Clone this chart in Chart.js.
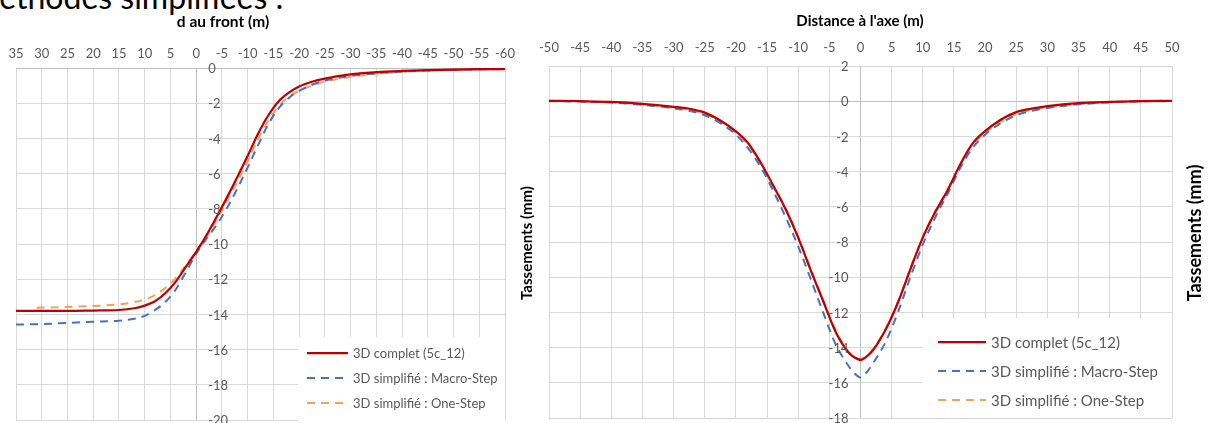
<!DOCTYPE html>
<html>
<head>
<meta charset="utf-8">
<script src="https://cdn.jsdelivr.net/npm/chart.js@4.4.0/dist/chart.umd.min.js"></script>
<style>
  html, body { margin: 0; padding: 0; background: #fff; overflow: hidden; }
  body { width: 1208px; height: 423px; position: relative; font-family: Lato, sans-serif; }
  .panel { position: absolute; top: 0; height: 423px; }
  #leftPanel { left: 0; width: 540px; }
  #rightPanel { left: 527px; width: 681px; }
  .heading { position: absolute; left: -30px; top: -23px; font-size: 32px; color: #000; white-space: nowrap; }
</style>
</head>
<body>
<div class="heading">Méthodes simplifiées :</div>
<div class="panel" id="leftPanel"><canvas id="frontChart"></canvas></div>
<div class="panel" id="rightPanel"><canvas id="axeChart"></canvas></div>
<script>
// --- settlement along the tunnel axis, vs distance to the face (m)
const frontX = [35, 30, 25, 20, 15, 12, 10, 8, 6, 4, 2, 0, -2, -4, -6, -8, -10, -12, -14, -16, -18, -20, -22.5, -25, -30, -35, -40, -45, -50, -55, -60];
const frontComplet = [-13.8, -13.8, -13.8, -13.78, -13.75, -13.65, -13.5, -13.25, -12.8, -12.15, -11.3, -10.45, -9.5, -8.45, -7.35, -6.2, -5.0, -3.75, -2.7, -1.9, -1.4, -1.05, -0.78, -0.6, -0.36, -0.24, -0.17, -0.12, -0.09, -0.07, -0.06];
const frontMacro = [-14.58, -14.55, -14.48, -14.42, -14.36, -14.25, -14.08, -13.75, -13.3, -12.6, -11.6, -10.55, -9.7, -8.9, -7.95, -6.85, -5.65, -4.4, -3.2, -2.3, -1.7, -1.3, -0.95, -0.72, -0.45, -0.3, -0.2, -0.14, -0.1, -0.08, -0.06];
const frontOneStepX = [31, 25, 20, 15, 12, 10, 8, 6, 4, 2, 0, -2, -4, -6, -8, -10, -12, -14, -16, -18, -20, -22.5, -25, -30, -35, -40, -45, -50, -55, -60];
const frontOneStep = [-13.62, -13.58, -13.52, -13.43, -13.3, -13.15, -12.9, -12.5, -11.95, -11.2, -10.4, -9.6, -8.6, -7.55, -6.45, -5.3, -4.05, -3.0, -2.2, -1.65, -1.3, -1.0, -0.78, -0.5, -0.33, -0.22, -0.15, -0.1, -0.08, -0.06];

// --- transverse settlement trough, vs distance to the axis (m)
const axeX = [-50, -45, -40, -35, -30, -27.5, -25, -22.5, -20, -18, -16, -14, -12, -10, -8, -6, -4, -2, -1, 0, 1, 2, 4, 6, 8, 10, 12, 14, 16, 18, 20, 22.5, 25, 27.5, 30, 35, 40, 45, 50];
const axeComplet = [0.02, 0.0, -0.04, -0.15, -0.32, -0.43, -0.65, -1.1, -1.72, -2.4, -3.5, -4.8, -6.15, -7.75, -9.6, -11.35, -13.1, -14.25, -14.55, -14.7, -14.5, -14.15, -13.0, -11.45, -9.55, -7.75, -6.3, -5.05, -3.6, -2.4, -1.7, -1.05, -0.62, -0.42, -0.28, -0.11, -0.04, 0.0, 0.02];
const axeMacro = [0.0, -0.02, -0.08, -0.2, -0.4, -0.55, -0.8, -1.25, -1.9, -2.7, -3.75, -5.1, -6.6, -8.25, -10.1, -12.0, -13.8, -15.0, -15.45, -15.7, -15.4, -14.9, -13.7, -12.0, -10.0, -8.15, -6.6, -5.25, -3.8, -2.65, -1.9, -1.25, -0.8, -0.55, -0.38, -0.18, -0.06, -0.01, 0.0];
const axeOneStepX = [-45, -40, -35, -30, -27.5, -25, -22.5, -20, -18, -16, -14, -12, -10, -8, -6, -4, -2, -1, 0, 1, 2, 4, 6, 8, 10, 12, 14, 16, 18, 20, 22.5, 25, 27.5, 30, 35, 40, 45];
const axeOneStep = [-0.02, -0.07, -0.2, -0.38, -0.5, -0.72, -1.15, -1.8, -2.5, -3.55, -4.8, -6.1, -7.7, -9.5, -11.3, -13.0, -14.2, -14.5, -14.65, -14.45, -14.1, -12.95, -11.4, -9.5, -7.7, -6.25, -5.0, -3.6, -2.45, -1.8, -1.15, -0.72, -0.5, -0.36, -0.17, -0.07, -0.02];

const seriesNames = ['3D complet (5c_12)', '3D simplifié : Macro-Step', '3D simplifié : One-Step'];
const seriesColors = ['#c00000', '#4472c4', '#f4a15d'];

const toPoints = (xs, ys) => xs.map((x, i) => ({ x: x, y: ys[i] }));

function makeDatasets(xs, complet, macro, oneX, oneStep) {
  return [
    { label: seriesNames[0], data: toPoints(xs, complet), borderColor: seriesColors[0], borderWidth: 2.25 },
    { label: seriesNames[1], data: toPoints(xs, macro), borderColor: seriesColors[1], borderWidth: 2, borderDash: [8, 6] },
    { label: seriesNames[2], data: toPoints(oneX, oneStep), borderColor: seriesColors[2], borderWidth: 2, borderDash: [8, 6] },
  ].map((d) => ({ ...d, pointRadius: 0, fill: false, cubicInterpolationMode: 'monotone' }));
}

const gridColor = (ctx) => (ctx.tick && ctx.tick.value === 0 ? '#bfbfbf' : '#d9d9d9');

// axis labels beside the x=0 axis, titles and an in-plot legend, like Excel draws them
const excelExtras = {
  id: 'excelExtras',
  afterDraw(chart, args, o) {
    const ctx = chart.ctx;
    const xs = chart.scales.x;
    const ys = chart.scales.y;
    const x0 = xs.getPixelForValue(0);
    ctx.save();

    ctx.font = '13px Lato';
    ctx.fillStyle = '#595959';
    ctx.textBaseline = 'middle';
    ctx.textAlign = o.labelSide === 'right' ? 'left' : 'right';
    const lx = o.labelSide === 'right' ? x0 + o.labelGap : x0 - o.labelGap;
    ys.ticks.forEach((t) => ctx.fillText(String(t.value), lx, ys.getPixelForValue(t.value) + 1));

    ctx.fillStyle = '#000';
    ctx.textAlign = 'center';
    ctx.font = o.xTitle.font;
    ctx.fillText(o.xTitle.text, o.xTitle.x, o.xTitle.y);
    o.yTitles.forEach((t) => {
      ctx.save();
      ctx.font = t.font;
      ctx.translate(t.x, t.y);
      ctx.rotate(-Math.PI / 2);
      ctx.fillText(t.text, 0, 0);
      ctx.restore();
    });

    const lg = o.legend;
    ctx.fillStyle = '#fff';
    ctx.fillRect(lg.left, lg.top, lg.width, lg.height);
    ctx.font = lg.font;
    ctx.textAlign = 'left';
    chart.data.datasets.forEach((d, i) => {
      const y = lg.firstRow + i * lg.rowGap;
      ctx.beginPath();
      ctx.setLineDash(d.borderDash || []);
      ctx.strokeStyle = d.borderColor;
      ctx.lineWidth = d.borderWidth;
      ctx.moveTo(lg.sampleX, y);
      ctx.lineTo(lg.sampleX + lg.sampleLen, y);
      ctx.stroke();
      ctx.setLineDash([]);
      ctx.fillStyle = '#595959';
      ctx.fillText(d.label, lg.sampleX + lg.sampleLen + 5, y + 1);
    });
    ctx.restore();
  },
};

function makeChart(id, datasets, xOpts, yOpts, padding, extras) {
  return new Chart(document.getElementById(id), {
    type: 'line',
    data: { datasets: datasets },
    options: {
      responsive: true,
      maintainAspectRatio: false,
      animation: false,
      layout: { padding: padding },
      plugins: { legend: { display: false }, tooltip: { enabled: false }, excelExtras: extras },
      scales: {
        x: {
          type: 'linear',
          position: 'top',
          min: xOpts.min,
          max: xOpts.max,
          reverse: xOpts.reverse,
          border: { display: false },
          grid: { color: gridColor, drawTicks: false, lineWidth: 1 },
          ticks: { stepSize: 5, padding: xOpts.padding, color: '#595959', font: { family: 'Lato', size: 13 }, maxRotation: 0, autoSkip: false },
        },
        y: {
          type: 'linear',
          min: yOpts.min,
          max: yOpts.max,
          border: { display: false },
          grid: { color: gridColor, drawTicks: false, lineWidth: 1 },
          ticks: { stepSize: 2, display: false },
        },
      },
    },
    plugins: [excelExtras],
  });
}

makeChart(
  'frontChart',
  makeDatasets(frontX, frontComplet, frontMacro, frontOneStepX, frontOneStep),
  { min: -60, max: 35, reverse: true, padding: 6 },
  { min: -20, max: 0 },
  { left: 16, right: 35, top: 40.4, bottom: 3 },
  {
    labelSide: 'right',
    labelGap: 12,
    xTitle: { text: 'd au front (m)', x: 223, y: 22, font: 'bold 15.5px Lato' },
    yTitles: [{ text: 'Tassements (mm)', x: 527, y: 243, font: 'bold 15px Lato' }],
    legend: { left: 298, top: 337, width: 207, height: 86, firstRow: 353, rowGap: 25, sampleX: 307, sampleLen: 41, font: '13px Lato' },
  }
);

makeChart(
  'axeChart',
  makeDatasets(axeX, axeComplet, axeMacro, axeOneStepX, axeOneStep),
  { min: -50, max: 50, reverse: false, padding: 10 },
  { min: -18, max: 2 },
  { left: 22, right: 36, top: 30.4, bottom: 5 },
  {
    labelSide: 'left',
    labelGap: 12,
    xTitle: { text: "Distance à l'axe (m)", x: 333, y: 21, font: 'bold 15px Lato' },
    yTitles: [{ text: 'Tassements (mm)', x: 668, y: 233, font: 'bold 18px Lato' }],
    legend: { left: 395, top: 318, width: 250, height: 100, firstRow: 342, rowGap: 29, sampleX: 411, sampleLen: 48, font: '15px Lato' },
  }
);
</script>
</body>
</html>
